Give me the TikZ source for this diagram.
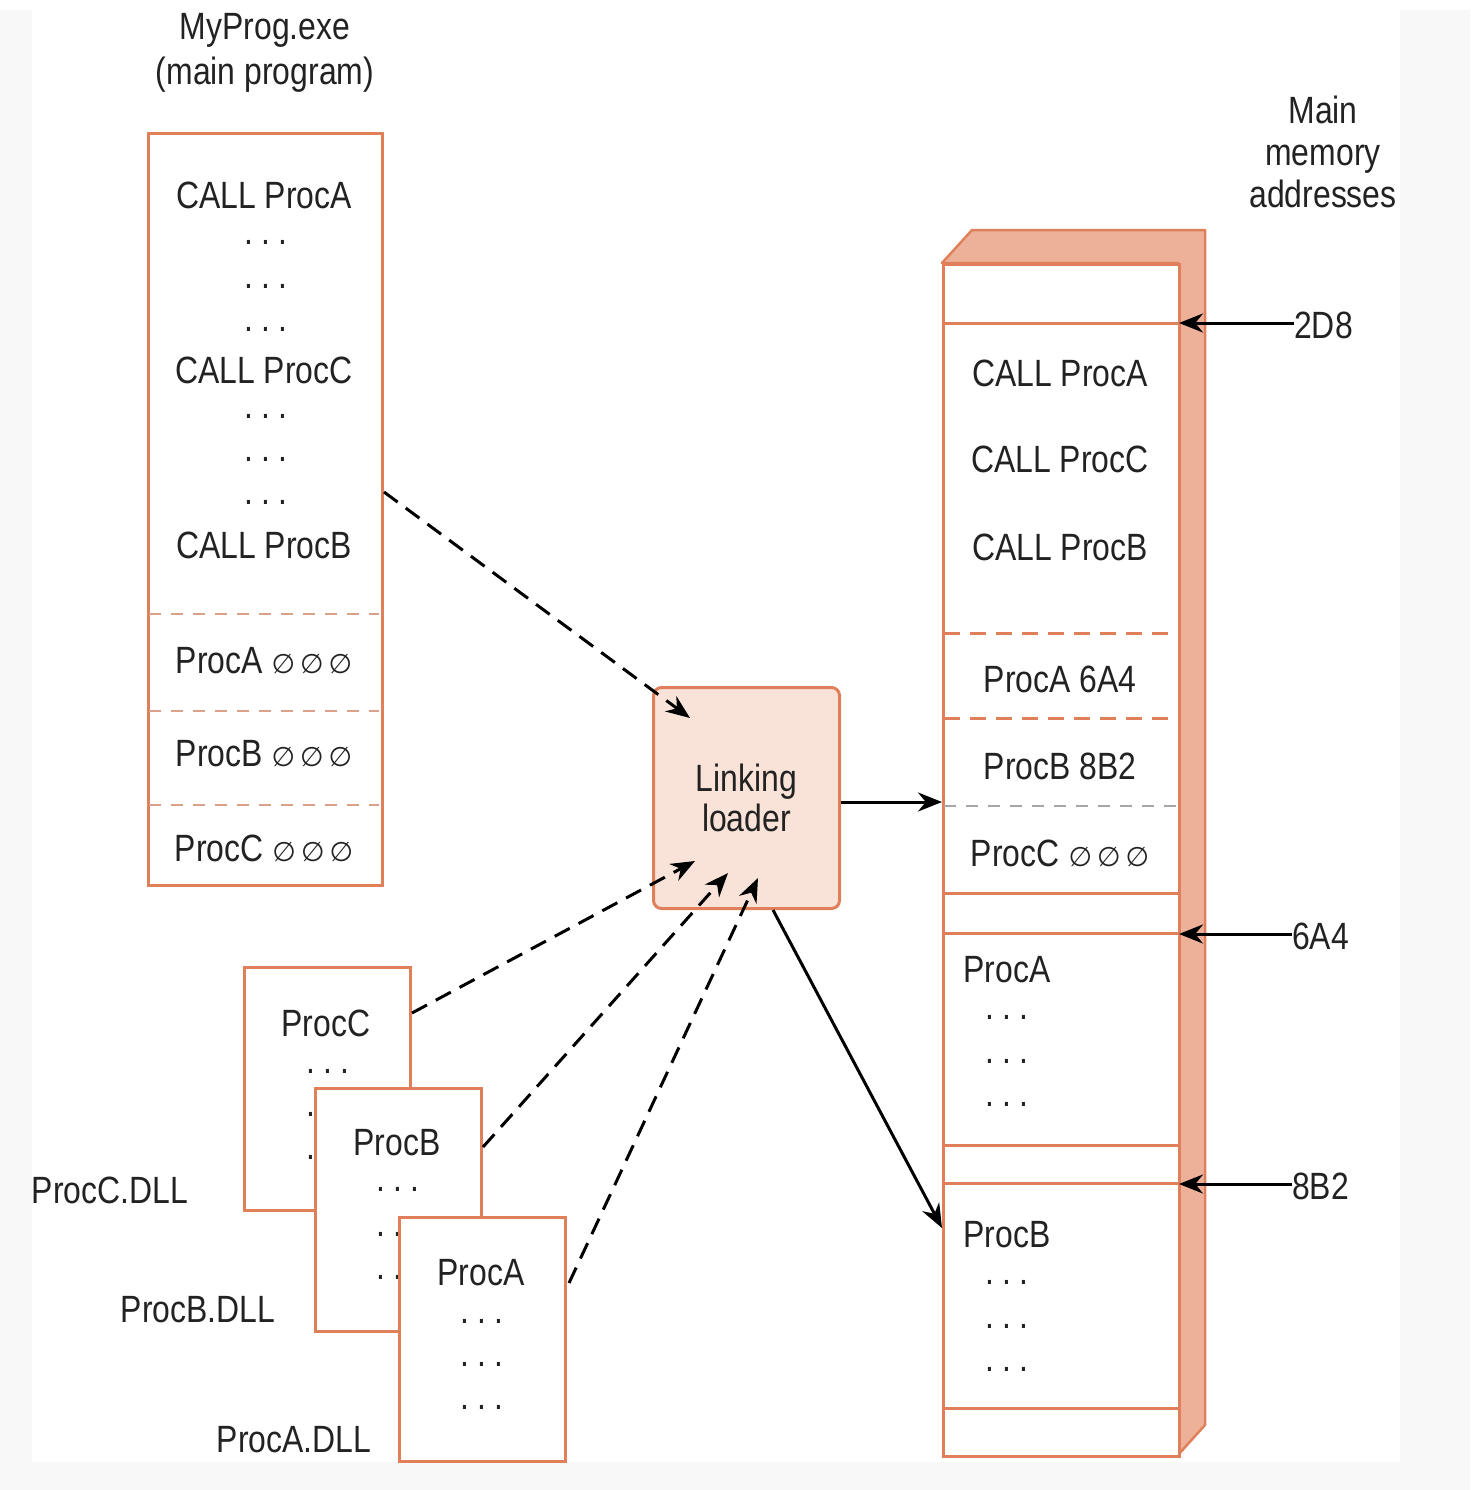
\documentclass[tikz,border=0pt]{standalone}
\usepackage{fontspec}
\setmainfont{Liberation Sans}[FakeStretch=0.84]
\newfontfamily\symfont{DejaVu Sans}
\usetikzlibrary{arrows.meta}
\definecolor{edge}{HTML}{E0805A}
\definecolor{sidefill}{HTML}{EDB098}
\definecolor{loaderfill}{HTML}{F9E3D8}
\definecolor{ink}{HTML}{222222}
\definecolor{bggray}{HTML}{F8F8F8}
\definecolor{sepcol}{HTML}{D9A08A}
\newcommand{\emp}{{\symfont\fontsize{27}{27}\selectfont ∅}}
\newcommand{\emps}{\emp\hspace{5pt}\emp\hspace{5pt}\emp}
\newcommand{\tdots}{.\kern8pt.\kern8pt.}
\begin{document}
\begin{tikzpicture}[x=1pt,y=-1pt,
  txt/.style={font=\fontsize{38}{42}\selectfont, text=ink, inner sep=0pt},
  dots/.style={font=\fontsize{38}{42}\selectfont, text=ink, inner sep=0pt},
  box/.style={draw=edge, line width=3pt, fill=white, inner sep=0pt, anchor=north west},
  sep/.style={draw=sepcol, line width=2pt, dash pattern=on 12pt off 10pt},
  sepbold/.style={draw=edge, line width=3pt, dash pattern=on 16pt off 10pt},
  septhin/.style={draw=gray!70, line width=1.2pt, dash pattern=on 12pt off 10pt},
  rule/.style={draw=edge, line width=3pt},
  link/.style={draw=black, line width=3pt, dash pattern=on 17pt off 10pt, -{Stealth[length=24pt,width=19pt]}},
  feed/.style={draw=black, line width=3pt, -{Stealth[length=24pt,width=19pt]}}
]
% background
\fill[bggray] (0,0) rectangle (1470,1490);
\fill[white] (32,0) rectangle (1400,1462);
\fill[white] (0,0) rectangle (1470,10);
\useasboundingbox (0,0) rectangle (1470,1490);

% ---------------- main program ----------------
\node[txt] (t1) at (265,30) {MyProg.exe};
\node[txt] (t2) at (265,75) {(main program)};
\node[box, minimum width=234pt, minimum height=752pt] (main) at (147,132) {};
\node[txt] (m1) at (264,195) {CALL ProcA};
\node[dots] (d1) at (266,242) {\tdots};
\node[dots] (d2) at (266,286) {\tdots};
\node[dots] (d3) at (266,329) {\tdots};
\node[txt] (m2) at (264,370) {CALL ProcC};
\node[dots] (d4) at (266,416) {\tdots};
\node[dots] (d5) at (266,459) {\tdots};
\node[dots] (d6) at (266,502) {\tdots};
\node[txt] (m3) at (264,545) {CALL ProcB};
\draw[sep] (149,614) -- (379,614);
\node[txt] (m4) at (264,661) {ProcA \emps};
\draw[sep] (149,711) -- (379,711);
\node[txt] (m5) at (264,754) {ProcB \emps};
\draw[sep] (149,805) -- (379,805);
\node[txt] (m6) at (264,848) {ProcC \emps};

% ---------------- linking loader ----------------
\node[draw=edge, line width=3pt, fill=loaderfill, rounded corners=8pt,
      minimum width=186pt, minimum height=221pt, anchor=north west,
      txt, align=center] (loader) at (652,686) {Linking\\[-2pt]loader};

% ---------------- memory ----------------
\node[txt, align=center] (mma) at (1323,152) {Main\\memory\\addresses};
\draw[draw=edge, line width=2.5pt, fill=sidefill, line join=round]
  (942,263) -- (972,230) -- (1205,230) -- (1205,1425) -- (1178,1455) -- (1178,263) -- cycle;
\node[box, minimum width=236pt, minimum height=1192pt] (mem) at (942,263) {};
\draw[rule] (942,323) -- (1178,323);
\node[txt] (c1) at (1060,373) {CALL ProcA};
\node[txt] (c2) at (1060,459) {CALL ProcC};
\node[txt] (c3) at (1060,547) {CALL ProcB};
\draw[sepbold] (944,633) -- (1176,633);
\node[txt] (c4) at (1060,679) {ProcA 6A4};
\draw[sepbold] (944,718) -- (1176,718);
\node[txt] (c5) at (1060,766) {ProcB 8B2};
\draw[septhin] (944,806) -- (1176,806);
\node[txt] (c6) at (1060,853) {ProcC \emps};
\draw[rule] (942,893) -- (1178,893);
\draw[rule] (942,933) -- (1178,933);
\node[txt] (c7) at (1007,970) {ProcA};
\node[dots] (e1) at (1007,1017) {\tdots};
\node[dots] (e2) at (1007,1061) {\tdots};
\node[dots] (e3) at (1007,1104) {\tdots};
\draw[rule] (942,1145) -- (1178,1145);
\draw[rule] (942,1183) -- (1178,1183);
\node[txt] (c8) at (1007,1235) {ProcB};
\node[dots] (e4) at (1007,1282) {\tdots};
\node[dots] (e5) at (1007,1326) {\tdots};
\node[dots] (e6) at (1007,1369) {\tdots};
\draw[rule] (942,1408) -- (1178,1408);

% addresses
\node[txt, anchor=west] (a1) at (1294,325) {2D8};
\node[txt, anchor=west] (a2) at (1292,936) {6A4};
\node[txt, anchor=west] (a3) at (1292,1186) {8B2};
\draw[feed] (a1.west |- 0,323) -- (1179,323);
\draw[feed] (a2.west |- 0,934) -- (1179,934);
\draw[feed] (a3.west |- 0,1184) -- (1179,1184);

% ---------------- DLLs ----------------
\node[box, minimum width=166pt, minimum height=243pt] (pc) at (243,966) {};
\node[txt] (pct) at (326,1023) {ProcC};
\node[dots] (f1) at (328,1071) {\tdots};
\node[dots] (f2) at (328,1114) {\tdots};
\node[dots] (f3) at (328,1157) {\tdots};
\node[box, minimum width=166pt, minimum height=243pt] (pb) at (314,1087) {};
\node[txt] (pbt) at (397,1143) {ProcB};
\node[dots] (g1) at (398,1189) {\tdots};
\node[dots] (g2) at (398,1234) {\tdots};
\node[dots] (g3) at (398,1277) {\tdots};
\node[box, minimum width=166pt, minimum height=244pt] (pa) at (398,1216) {};
\node[txt] (pat) at (481,1273) {ProcA};
\node[dots] (h1) at (482,1321) {\tdots};
\node[dots] (h2) at (482,1364) {\tdots};
\node[dots] (h3) at (482,1407) {\tdots};
\node[txt] (lc) at (110,1190) {ProcC.DLL};
\node[txt] (lb) at (198,1310) {ProcB.DLL};
\node[txt] (la) at (294,1440) {ProcA.DLL};

% ---------------- connectors ----------------
\draw[link] ([yshift=-360pt]main.north east) -- ([xshift=38pt,yshift=-32pt]loader.north west);
\draw[link] ([yshift=-47pt]pc.north east) -- ([xshift=43pt,yshift=49pt]loader.south west);
\draw[link] ([yshift=-60pt]pb.north east) -- ([xshift=76pt,yshift=37pt]loader.south west);
\draw[link] ([xshift=2pt,yshift=-67pt]pa.north east) -- ([xshift=106pt,yshift=32pt]loader.south west);
\draw[feed] ([yshift=-4pt]loader.east) -- ([yshift=-4pt]loader.east -| mem.west);
\draw[feed] ([xshift=121pt]loader.south west) -- ([yshift=-965pt]mem.north west);
\end{tikzpicture}
\end{document}
